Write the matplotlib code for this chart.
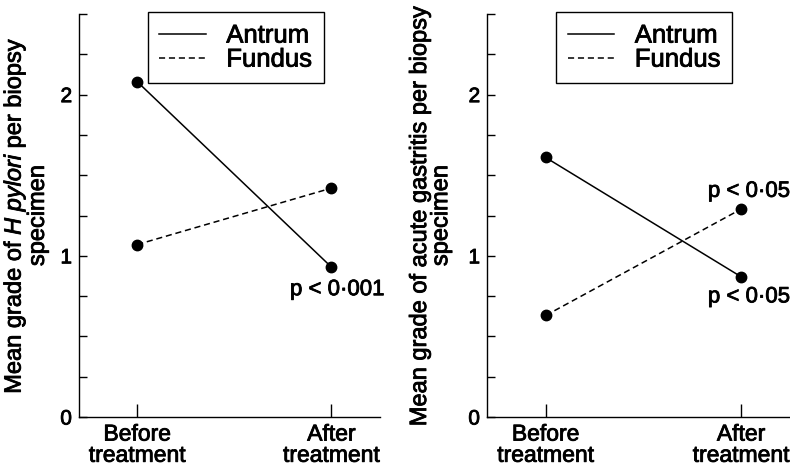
import matplotlib
matplotlib.use("Agg")
import matplotlib.pyplot as plt
import matplotlib.patheffects as pe
from matplotlib.text import Text
from matplotlib.ticker import MultipleLocator

plt.rcParams['font.family'] = ['Liberation Sans', 'DejaVu Sans']
plt.rcParams['mathtext.fontset'] = 'custom'
plt.rcParams['mathtext.rm'] = 'Liberation Sans'
plt.rcParams['mathtext.it'] = 'Liberation Sans:italic'

# data
groups = ["Before\ntreatment", "After\ntreatment"]
hp_antrum = [2.08, 0.93]
hp_fundus = [1.07, 1.42]
ag_antrum = [1.61, 0.87]
ag_fundus = [0.63, 1.29]

hp_ylabel = "Mean grade of $\\mathit{H\\ pylori}$ per biopsy\nspecimen"
ag_ylabel = "Mean grade of acute gastritis per biopsy\nspecimen"

fig = plt.figure(figsize=(7.9, 4.71), dpi=100)
ax1 = fig.add_axes([0.100, 0.1146, 0.381, 0.8556])
ax2 = fig.add_axes([0.6165, 0.1146, 0.3835, 0.8556])

stroke = [pe.withStroke(linewidth=0.6, foreground='black')]


def draw(ax, antrum, fundus, ylabel, label_x):
    x = list(range(len(groups)))
    ax.plot(x, antrum, '-', color='black', lw=1.1, label='Antrum')
    ax.plot(x, fundus, '--', color='black', lw=1.1, dashes=(4, 2.5), label='Fundus')
    ax.plot(x, antrum, 'o', color='black', ms=7.5)
    ax.plot(x, fundus, 'o', color='black', ms=7.5)
    ax.set_xlim(-0.30, 1.25)
    ax.set_ylim(0, 2.5)
    for s in ['top', 'right']:
        ax.spines[s].set_visible(False)
    ax.spines['left'].set_linewidth(1.0)
    ax.spines['bottom'].set_linewidth(1.0)
    ax.set_xticks(x)
    ax.set_xticklabels(groups, fontsize=16.5, linespacing=0.9)
    ax.set_yticks([0, 1, 2])
    ax.set_yticklabels(['0', '1', '2'], fontsize=15)
    ax.yaxis.set_minor_locator(MultipleLocator(0.25))
    ax.tick_params(axis='y', which='both', direction='in', length=5.5, width=1.0, pad=5)
    ax.tick_params(axis='x', direction='in', length=9.5, width=1.0, pad=4)
    ax.set_ylabel(ylabel, fontsize=17, linespacing=0.95)
    ax.yaxis.set_label_coords(label_x, 0.5)
    leg = ax.legend(loc='upper left', bbox_to_anchor=(0.229, 1.005), fontsize=18.5,
                    handlelength=1.8, handletextpad=0.8, borderpad=0.45,
                    labelspacing=0.0, borderaxespad=0, fancybox=False,
                    framealpha=1, edgecolor='black')
    leg.get_frame().set_linewidth(1.0)
    for t in leg.get_texts():
        t.set_path_effects(stroke)


draw(ax1, hp_antrum, hp_fundus, hp_ylabel, -0.10)
draw(ax2, ag_antrum, ag_fundus, ag_ylabel, -0.115)

ax1.text(1.03, 0.79, "p < 0\u00b7001", fontsize=16, ha='center', va='center')
ax2.text(1.04, 1.40, "p < 0\u00b705", fontsize=16, ha='center', va='center')
ax2.text(1.04, 0.745, "p < 0\u00b705", fontsize=16, ha='center', va='center')

# the printed type is heavier than Liberation Sans regular
for t in fig.findobj(Text):
    t.set_path_effects(stroke)

fig.savefig("out.png", dpi=100)
